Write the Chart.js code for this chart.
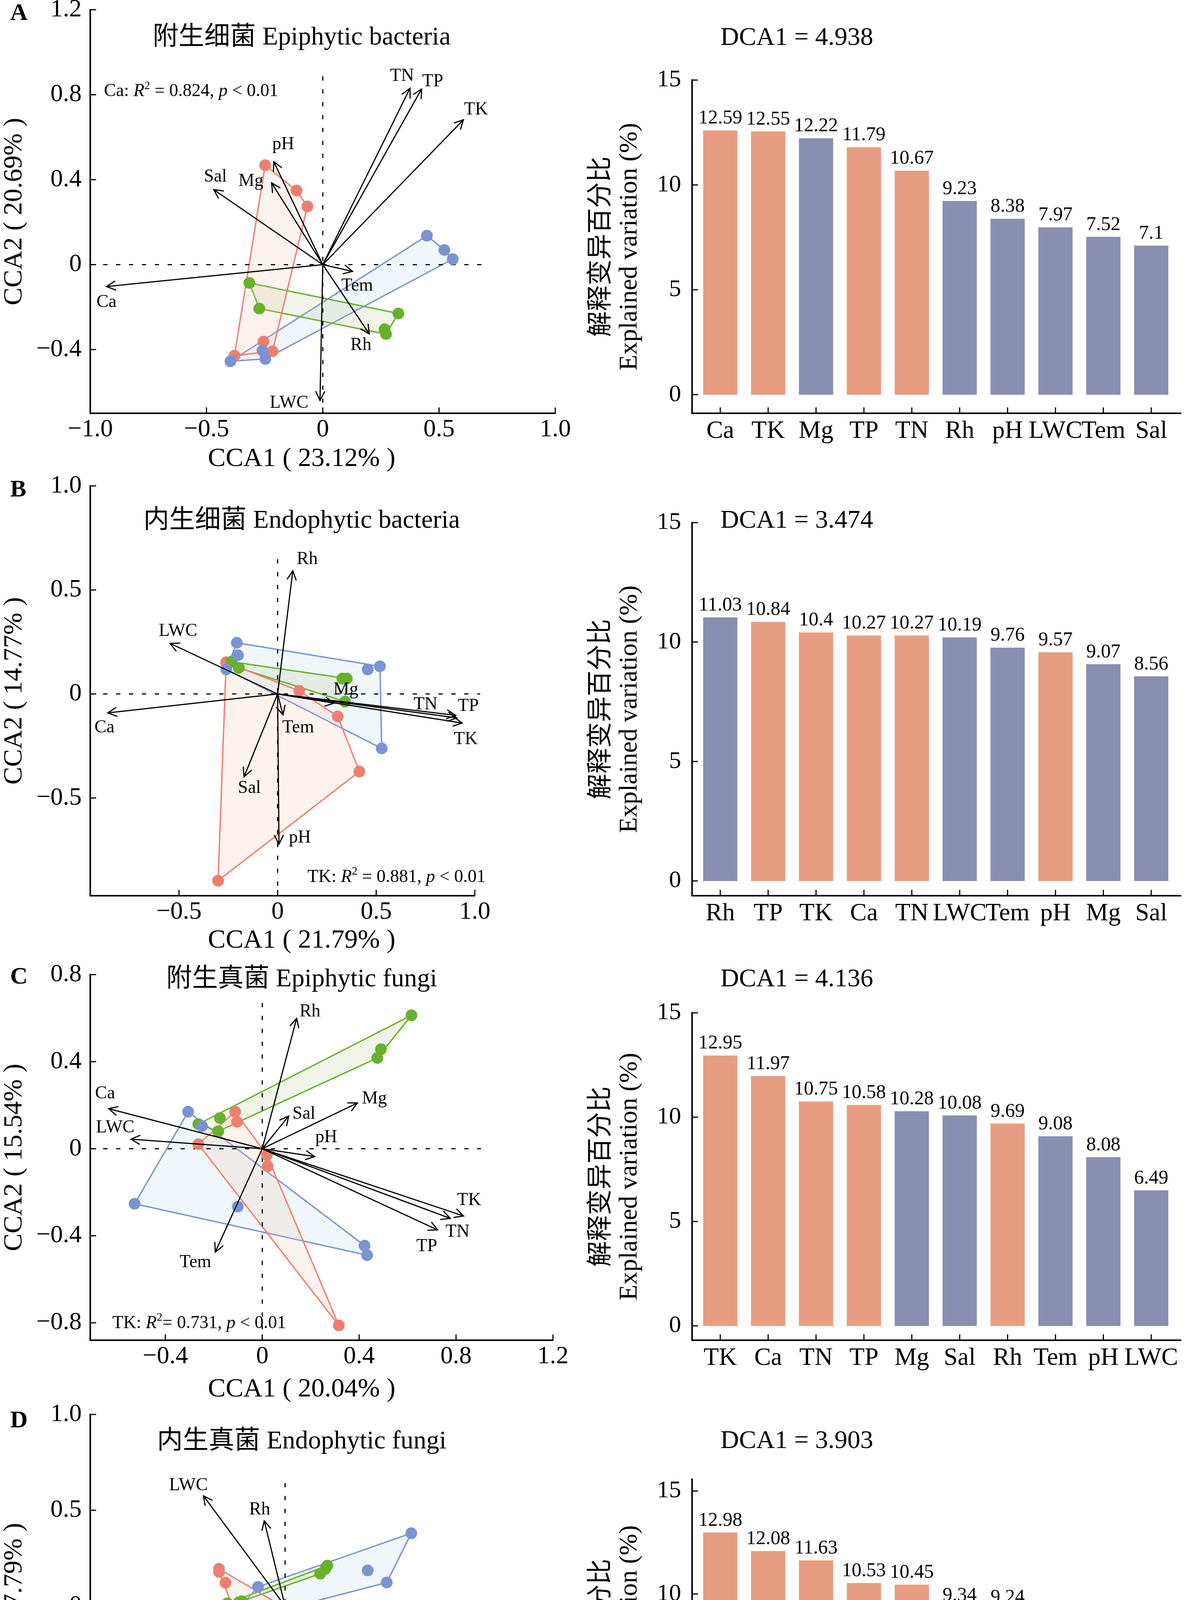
<!DOCTYPE html>
<html>
<head>
<meta charset="utf-8">
<script src="https://cdn.jsdelivr.net/npm/chart.js@4.4.1/dist/chart.umd.min.js"></script>
<style>
  html, body { margin: 0; padding: 0; background: #fff; }
  #page { position: relative; width: 3035px; height: 4901px; overflow: hidden; background: #fff;
          font-family: 'Liberation Serif', 'Noto Sans CJK SC', serif; color: #000; }
  #page canvas { position: absolute; }
  .lg { position: absolute; font-size: 68px; line-height: 68px; white-space: nowrap; }
  .dot { position: absolute; width: 35px; height: 37px; border-radius: 50%; }
  .sq { position: absolute; width: 38px; height: 38px; }
</style>
</head>
<body>
<div id="page"></div>
<script>
// ---------- data ----------
// A  附生细菌
const ltA = [[-0.248, 0.468], [-0.113, 0.349], [-0.066, 0.274], [-0.255, -0.362], [-0.216, -0.408], [-0.380, -0.429]];
const mtA = [[-0.316, -0.086], [-0.273, -0.207], [0.325, -0.230], [0.266, -0.304], [0.272, -0.327]];
const htA = [[0.448, 0.136], [0.523, 0.069], [0.559, 0.026], [-0.397, -0.455], [-0.259, -0.405], [-0.247, -0.444]];
const envA = ['Ca', 'TN', 'TP', 'TK', 'pH', 'Mg', 'Sal', 'Tem', 'Rh', 'LWC'];
const arrowA = [[-0.930, -0.103], [0.375, 0.830], [0.425, 0.827], [0.605, 0.682], [-0.211, 0.485], [-0.220, 0.385], [-0.469, 0.353], [0.128, -0.032], [0.200, -0.326], [-0.012, -0.639]];
const labelA = [[-0.930, -0.178], [0.341, 0.887], [0.473, 0.861], [0.659, 0.729], [-0.170, 0.566], [-0.309, 0.392], [-0.462, 0.413], [0.148, -0.100], [0.164, -0.379], [-0.145, -0.652]];

// B  内生细菌
const ltB = [[-0.261, 0.152], [0.110, 0.015], [0.305, -0.108], [0.415, -0.373], [-0.302, -0.898]];
const mtB = [[-0.234, 0.155], [-0.197, 0.125], [0.329, 0.074], [0.351, 0.074], [0.342, -0.037]];
const htB = [[-0.207, 0.246], [-0.201, 0.186], [-0.260, 0.118], [0.457, 0.118], [0.519, 0.133], [0.528, -0.262]];
const envB = ['Rh', 'LWC', 'Ca', 'TN', 'TP', 'TK', 'Mg', 'Tem', 'Sal', 'pH'];
const arrowB = [[0.077, 0.592], [-0.545, 0.243], [-0.861, -0.091], [0.903, -0.103], [0.909, -0.115], [0.936, -0.140], [0.287, -0.044], [0.027, -0.100], [-0.170, -0.398], [0.007, -0.722]];
const labelB = [[0.150, 0.648], [-0.505, 0.302], [-0.878, -0.162], [0.750, -0.052], [0.967, -0.059], [0.954, -0.218], [0.346, 0.019], [0.104, -0.162], [-0.143, -0.454], [0.113, -0.692]];

// C  附生真菌
const ltC = [[-0.112, 0.170], [-0.104, 0.124], [-0.264, 0.021], [0.019, -0.029], [0.022, -0.080], [0.316, -0.812]];
const mtC = [[0.616, 0.613], [0.490, 0.457], [0.475, 0.417], [-0.175, 0.141], [-0.264, 0.113], [-0.182, 0.080]];
const htC = [[-0.306, 0.170], [-0.249, 0.104], [-0.527, -0.253], [-0.101, -0.266], [0.422, -0.445], [0.433, -0.489]];
const envC = ['Rh', 'Mg', 'Sal', 'pH', 'TK', 'TN', 'TP', 'Ca', 'LWC', 'Tem'];
const arrowC = [[0.142, 0.599], [0.393, 0.210], [0.109, 0.150], [0.216, -0.036], [0.831, -0.309], [0.776, -0.320], [0.724, -0.373], [-0.634, 0.184], [-0.542, 0.044], [-0.194, -0.475]];
const labelC = [[0.197, 0.630], [0.463, 0.230], [0.172, 0.160], [0.264, 0.051], [0.854, -0.238], [0.806, -0.382], [0.679, -0.449], [-0.649, 0.253], [-0.607, 0.097], [-0.276, -0.522]];

// D  内生真菌
const ltD = [[-0.339, 0.194], [-0.339, 0.178], [-0.306, 0.122], [0.207, -0.139], [0.226, -0.144], [0.130, -1.031]];
const mtD = [[0.217, 0.211], [0.207, 0.194], [0.180, 0.169], [-0.296, 0.014], [-0.237, 0.020], [-0.222, 0.025]];
const htD = [[0.648, 0.380], [0.424, 0.186], [0.522, 0.123], [-0.139, 0.100], [-0.265, -0.039], [-0.144, -0.054]];
const envD = ['LWC', 'Rh', 'Tem', 'TK', 'TP', 'TN', 'pH', 'Mg', 'Sal', 'Ca'];
const arrowD = [[-0.419, 0.575], [-0.107, 0.445], [0.235, -0.025], [0.917, -0.208], [0.878, -0.347], [0.822, -0.414], [0.056, -0.208], [0.109, -0.609], [-0.259, -0.249], [-0.909, -0.414]];
const labelD = [[-0.496, 0.629], [-0.130, 0.502], [0.328, -0.012], [0.985, -0.172], [0.957, -0.355], [0.865, -0.482], [0.130, -0.220], [0.081, -0.668], [-0.339, -0.259], [-0.894, -0.304]];

// axis ticks
const xTickA = [-1, -0.5, 0, 0.5, 1];     const yTickA = [-0.4, 0, 0.4, 0.8, 1.2];
const xTickB = [-0.5, 0, 0.5, 1];         const yTickB = [-0.5, 0, 0.5, 1];
const xTickC = [-0.4, 0, 0.4, 0.8, 1.2];  const yTickC = [-0.8, -0.4, 0, 0.4, 0.8];
const xTickD = [-0.5, 0, 0.5, 1];         const yTickD = [-1, -0.5, 0, 0.5, 1];
const barTicks = [0, 5, 10, 15];

// explained variation bars (1 = p < 0.05)
const barCatA = ['Ca', 'TK', 'Mg', 'TP', 'TN', 'Rh', 'pH', 'LWC', 'Tem', 'Sal'];
const barValA = [12.59, 12.55, 12.22, 11.79, 10.67, 9.23, 8.38, 7.97, 7.52, 7.1];
const barSigA = [1, 1, 0, 1, 1, 0, 0, 0, 0, 0];
const barCatB = ['Rh', 'TP', 'TK', 'Ca', 'TN', 'LWC', 'Tem', 'pH', 'Mg', 'Sal'];
const barValB = [11.03, 10.84, 10.4, 10.27, 10.27, 10.19, 9.76, 9.57, 9.07, 8.56];
const barSigB = [0, 1, 1, 1, 1, 0, 0, 1, 0, 0];
const barCatC = ['TK', 'Ca', 'TN', 'TP', 'Mg', 'Sal', 'Rh', 'Tem', 'pH', 'LWC'];
const barValC = [12.95, 11.97, 10.75, 10.58, 10.28, 10.08, 9.69, 9.08, 8.08, 6.49];
const barSigC = [1, 1, 1, 1, 0, 0, 1, 0, 0, 0];
const barCatD = ['Ca', 'TP', 'TK', 'TN', 'LWC', 'Mg', 'Rh', 'pH', 'Sal', 'Tem'];
const barValD = [12.98, 12.08, 11.63, 10.53, 10.45, 9.34, 9.24, 8.47, 8.22, 7.12];
const barSigD = [1, 1, 1, 1, 1, 1, 0, 0, 0, 0];

// ---------- styles ----------
const SER = "'Liberation Serif', 'Noto Sans CJK SC', serif";
const C_LT = '#EE7F70', C_MT = '#67B12B', C_HT = '#7A93D2';
const F_LT = 'rgba(240,190,170,0.2)', F_MT = 'rgba(170,190,130,0.18)', F_HT = 'rgba(173,216,230,0.2)';
const C_SIG = '#E89D82', C_NS = '#8A8EB0';

Chart.defaults.font.family = SER;
Chart.defaults.color = '#000';

function convexHull(pts) {
  const p = pts.slice().sort((a, b) => a[0] - b[0] || a[1] - b[1]);
  const cross = (o, a, b) => (a[0] - o[0]) * (b[1] - o[1]) - (a[1] - o[1]) * (b[0] - o[0]);
  const lo = [], up = [];
  for (const q of p) {
    while (lo.length >= 2 && cross(lo[lo.length - 2], lo[lo.length - 1], q) <= 0) lo.pop();
    lo.push(q);
  }
  for (const q of p.slice().reverse()) {
    while (up.length >= 2 && cross(up[up.length - 2], up[up.length - 1], q) <= 0) up.pop();
    up.push(q);
  }
  lo.pop(); up.pop();
  return lo.concat(up);
}

function fmtTick(v) {
  if (Math.abs(v) < 1e-9) return '0';
  return (v < 0 ? '\u2212' : '') + Math.abs(v).toFixed(1);
}

function makeCanvas(id, c) {
  const el = document.createElement('canvas');
  el.id = id;
  el.width = c.w; el.height = c.h;
  el.style.left = c.x + 'px'; el.style.top = c.y + 'px';
  el.style.width = c.w + 'px'; el.style.height = c.h + 'px';
  document.getElementById('page').appendChild(el);
  return el;
}

function innerTicks(chart) {
  const ctx = chart.ctx, a = chart.chartArea, sx = chart.scales.x, sy = chart.scales.y;
  ctx.save();
  ctx.strokeStyle = '#000';
  ctx.lineWidth = 3;
  sx.ticks.forEach(t => {
    const x = sx.getPixelForValue(t.value);
    ctx.beginPath(); ctx.moveTo(x, a.bottom); ctx.lineTo(x, a.bottom - 15); ctx.stroke();
  });
  sy.ticks.forEach(t => {
    const y = sy.getPixelForValue(t.value);
    ctx.beginPath(); ctx.moveTo(a.left, y); ctx.lineTo(a.left + 15, y); ctx.stroke();
  });
  ctx.restore();
}

function drawText(ctx, txt, x, y, size, opt) {
  opt = opt || {};
  ctx.save();
  ctx.font = (opt.bold ? 'bold ' : '') + size + 'px ' + SER;
  ctx.fillStyle = '#000';
  ctx.textAlign = opt.align || 'center';
  ctx.textBaseline = opt.base || 'middle';
  ctx.fillText(txt, x, y);
  ctx.restore();
}

// text with italic / superscript pieces
function richText(ctx, parts, x, y, size, align) {
  const fontOf = st => st === 'i' ? 'italic ' + size + 'px ' + SER
    : st === 's' ? Math.round(size * 0.62) + 'px ' + SER : size + 'px ' + SER;
  ctx.save();
  ctx.fillStyle = '#000';
  ctx.textAlign = 'left';
  ctx.textBaseline = 'middle';
  let w = 0;
  parts.forEach(([t, st]) => { ctx.font = fontOf(st); w += ctx.measureText(t).width; });
  let cx = align === 'right' ? x - w : x;
  parts.forEach(([t, st]) => {
    ctx.font = fontOf(st);
    ctx.fillText(t, cx, st === 's' ? y - size * 0.3 : y);
    cx += ctx.measureText(t).width;
  });
  ctx.restore();
}

const noteA = [['Ca: ', ''], ['R', 'i'], ['2', 's'], [' = 0.824, ', ''], ['p', 'i'], [' < 0.01', '']];
const noteB = [['TK: ', ''], ['R', 'i'], ['2', 's'], [' = 0.881, ', ''], ['p', 'i'], [' < 0.01', '']];
const noteC = [['TK: ', ''], ['R', 'i'], ['2', 's'], ['= 0.731, ', ''], ['p', 'i'], [' < 0.01', '']];
const noteD = [['Ca: ', ''], ['R', 'i'], ['2', 's'], [' = 0.906, ', ''], ['p', 'i'], [' < 0.01', '']];

// ---------- panel layout ----------
const scatterPanels = [
  { id: 'sA', letter: 'A', title: '附生细菌 Epiphytic bacteria', xTitle: 'CCA1 ( 23.12% )', yTitle: 'CCA2 ( 20.69% )',
    groups: [ltA, mtA, htA], env: envA, arrows: arrowA, labels: labelA,
    xRange: [-1, 1], yRange: [-0.7, 1.2], xTicks: xTickA, yTicks: yTickA, hLine: [-1, 0.69], vLine: [0.887, -0.7],
    note: noteA, notePos: [-0.941, 0.815], noteAlign: 'left',
    canvas: { x: 0, y: 0, w: 1530, h: 1240 }, area: { l: 231, r: 1421, t: 25, b: 1058 },
    letterY: 51, titleY: 97, xTitleY: 1175 },
  { id: 'sB', letter: 'B', title: '内生细菌 Endophytic bacteria', xTitle: 'CCA1 ( 21.79% )', yTitle: 'CCA2 ( 14.77% )',
    groups: [ltB, mtB, htB], env: envB, arrows: arrowB, labels: labelB,
    xRange: [-0.95, 1], yRange: [-0.97, 1], xTicks: xTickB, yTicks: yTickB, hLine: [-0.95, 1.027], vLine: [0.648, -0.97],
    note: noteB, notePos: [1.055, -0.881], noteAlign: 'right',
    canvas: { x: 0, y: 1200, w: 1530, h: 1270 }, area: { l: 231, r: 1215, t: 1244, b: 2293 },
    letterY: 1271, titleY: 1334, xTitleY: 2408 },
  { id: 'sC', letter: 'C', title: '附生真菌 Epiphytic fungi', xTitle: 'CCA1 ( 20.04% )', yTitle: 'CCA2 ( 15.54% )',
    groups: [ltC, mtC, htC], env: envC, arrows: arrowC, labels: labelC,
    xRange: [-0.71, 1.2], yRange: [-0.88, 0.8], xTicks: xTickC, yTicks: yTickC, hLine: [-0.71, 0.903], vLine: [0.67, -0.88],
    note: noteC, notePos: [-0.619, -0.802], noteAlign: 'left',
    canvas: { x: 0, y: 2430, w: 1530, h: 1190 }, area: { l: 231, r: 1415, t: 2495, b: 3431 },
    letterY: 2518, titleY: 2508, xTitleY: 3557 },
  { id: 'sD', letter: 'D', title: '内生真菌 Endophytic fungi', xTitle: 'CCA1 (19.38%)', yTitle: 'CCA2 ( 17.79% )',
    groups: [ltD, mtD, htD], env: envD, arrows: arrowD, labels: labelD,
    xRange: [-1, 1], yRange: [-1.11, 1], xTicks: xTickD, yTicks: yTickD, hLine: [-1, 1.004], vLine: [0.642, -1.11],
    note: noteD, notePos: [-0.928, -1.018], noteAlign: 'left',
    canvas: { x: 0, y: 3580, w: 1530, h: 1270 }, area: { l: 231, r: 1228, t: 3621, b: 4656 },
    letterY: 3654, titleY: 3691, xTitleY: 4778 }
];

const barPanels = [
  { id: 'bA', cats: barCatA, values: barValA, sig: barSigA, dca: 'DCA1 = 4.938', dcaY: 98, yRange: [-0.89, 15],
    canvas: { x: 1450, y: 0, w: 1585, h: 1240 }, area: { l: 1771, r: 3022, t: 205, b: 1058 } },
  { id: 'bB', cats: barCatB, values: barValB, sig: barSigB, dca: 'DCA1 = 3.474', dcaY: 1334, yRange: [-0.62, 15],
    canvas: { x: 1450, y: 1200, w: 1585, h: 1270 }, area: { l: 1771, r: 3022, t: 1338, b: 2293 } },
  { id: 'bC', cats: barCatC, values: barValC, sig: barSigC, dca: 'DCA1 = 4.136', dcaY: 2508, yRange: [-0.69, 15],
    canvas: { x: 1450, y: 2430, w: 1585, h: 1190 }, area: { l: 1771, r: 3022, t: 2593, b: 3431 } },
  { id: 'bD', cats: barCatD, values: barValD, sig: barSigD, dca: 'DCA1 = 3.903', dcaY: 3690, yRange: [-0.91, 15.57],
    canvas: { x: 1450, y: 3580, w: 1585, h: 1270 }, area: { l: 1771, r: 3022, t: 3787, b: 4656 },
    xTitle: '指标 Indicator', xTitleY: 4787 }
];

// ---------- scatter (CCA biplot) ----------
function makeScatter(p) {
  const cv = p.canvas, a = p.area;
  const el = makeCanvas(p.id, cv);
  const cols = [C_LT, C_MT, C_HT], fills = [F_LT, F_MT, F_HT];
  const ds = [];

  p.arrows.forEach(e => ds.push({
    type: 'line', data: [{ x: 0, y: 0 }, { x: e[0], y: e[1] }],
    borderColor: '#000', borderWidth: 3, pointRadius: 0, fill: false, clip: false, order: 0
  }));
  p.groups.forEach((g, i) => ds.push({
    type: 'scatter', data: g.map(q => ({ x: q[0], y: q[1] })),
    backgroundColor: cols[i], borderWidth: 0, pointRadius: 15, clip: false, order: 1.3 - i * 0.1
  }));
  ds.push({ type: 'line', data: [{ x: p.hLine[0], y: 0 }, { x: p.hLine[1], y: 0 }],
    borderColor: '#000', borderWidth: 3, borderDash: [11, 22], pointRadius: 0, fill: false, clip: false, order: 2 });
  ds.push({ type: 'line', data: [{ x: 0, y: p.vLine[0] }, { x: 0, y: p.vLine[1] }],
    borderColor: '#000', borderWidth: 3, borderDash: [11, 22], pointRadius: 0, fill: false, clip: false, order: 2 });
  p.groups.forEach((g, i) => {
    const h = convexHull(g);
    h.push(h[0]);
    ds.push({
      type: 'line', data: h.map(q => ({ x: q[0], y: q[1] })),
      borderColor: cols[i], borderWidth: 3.5, backgroundColor: fills[i], fill: 'shape',
      pointRadius: 0, tension: 0, clip: false, order: 3 + i
    });
  });

  const deco = {
    id: 'deco',
    afterDatasetsDraw(chart) {
      const ctx = chart.ctx, sx = chart.scales.x, sy = chart.scales.y;
      const ox = sx.getPixelForValue(0), oy = sy.getPixelForValue(0);
      ctx.save();
      ctx.strokeStyle = '#000';
      ctx.lineWidth = 3;
      p.arrows.forEach(e => {
        const x1 = sx.getPixelForValue(e[0]), y1 = sy.getPixelForValue(e[1]);
        const ang = Math.atan2(y1 - oy, x1 - ox), L = 26, w = 0.47;
        ctx.beginPath();
        ctx.moveTo(x1 - L * Math.cos(ang - w), y1 - L * Math.sin(ang - w));
        ctx.lineTo(x1, y1);
        ctx.lineTo(x1 - L * Math.cos(ang + w), y1 - L * Math.sin(ang + w));
        ctx.stroke();
      });
      ctx.restore();
      p.env.forEach((name, i) => {
        drawText(ctx, name, sx.getPixelForValue(p.labels[i][0]), sy.getPixelForValue(p.labels[i][1]), 46);
      });
      richText(ctx, p.note, sx.getPixelForValue(p.notePos[0]), sy.getPixelForValue(p.notePos[1]), 46, p.noteAlign);
    },
    afterDraw(chart) {
      const ctx = chart.ctx;
      innerTicks(chart);
      drawText(ctx, p.letter, 26 - cv.x, p.letterY - cv.y, 62, { bold: true, align: 'left', base: 'alphabetic' });
      drawText(ctx, p.title, 772 - cv.x, p.titleY - cv.y, 66);
      drawText(ctx, p.xTitle, 772 - cv.x, p.xTitleY - cv.y, 68);
    }
  };

  return new Chart(el, {
    type: 'scatter',
    data: { datasets: ds },
    options: {
      responsive: false, animation: false, devicePixelRatio: 1, events: [],
      layout: { padding: { left: 0, top: a.t - cv.y, right: cv.x + cv.w - a.r, bottom: 0 } },
      plugins: { legend: { display: false }, tooltip: { enabled: false } },
      scales: {
        x: {
          type: 'linear', min: p.xRange[0], max: p.xRange[1],
          afterBuildTicks: s => { s.ticks = p.xTicks.map(v => ({ value: v })); },
          afterFit: s => { s.height = cv.y + cv.h - a.b; s.paddingLeft = 0; s.paddingRight = 0; },
          grid: { display: false, drawTicks: false },
          border: { display: true, color: '#000', width: 4 },
          ticks: { color: '#000', font: { family: SER, size: 64 }, padding: 4, autoSkip: false, maxRotation: 0,
                   callback: v => fmtTick(v) }
        },
        y: {
          type: 'linear', min: p.yRange[0], max: p.yRange[1],
          afterBuildTicks: s => { s.ticks = p.yTicks.map(v => ({ value: v })); },
          afterFit: s => { s.width = a.l - cv.x; s.paddingTop = 0; s.paddingBottom = 0; },
          grid: { display: false, drawTicks: false },
          border: { display: true, color: '#000', width: 4 },
          ticks: { color: '#000', font: { family: SER, size: 64 }, padding: 22, autoSkip: false,
                   callback: v => fmtTick(v) },
          title: { display: true, text: p.yTitle, color: '#000', font: { family: SER, size: 68, lineHeight: 1 },
                   padding: { top: 3, bottom: 0 } }
        }
      }
    },
    plugins: [deco]
  });
}

// ---------- bar chart (explained variation) ----------
function makeBars(p) {
  const cv = p.canvas, a = p.area;
  const el = makeCanvas(p.id, cv);
  const deco = {
    id: 'barDeco',
    afterDatasetsDraw(chart) {
      const ctx = chart.ctx;
      chart.getDatasetMeta(0).data.forEach((bar, i) => {
        drawText(ctx, String(p.values[i]), bar.x, bar.y - 18, 50, { base: 'alphabetic' });
      });
    },
    afterDraw(chart) {
      const ctx = chart.ctx;
      innerTicks(chart);
      drawText(ctx, p.dca, 2039 - cv.x, p.dcaY - cv.y, 66);
      if (p.xTitle) drawText(ctx, p.xTitle, 2408 - cv.x, p.xTitleY - cv.y, 66);
    }
  };
  return new Chart(el, {
    type: 'bar',
    data: {
      datasets: [{
        data: p.values.map((v, i) => ({ x: i, y: v })),
        backgroundColor: p.sig.map(s => s ? C_SIG : C_NS),
        borderWidth: 0, barThickness: 87
      }]
    },
    options: {
      responsive: false, animation: false, devicePixelRatio: 1, events: [],
      layout: { padding: { left: 0, top: a.t - cv.y, right: cv.x + cv.w - a.r, bottom: 0 } },
      plugins: { legend: { display: false }, tooltip: { enabled: false } },
      scales: {
        x: {
          type: 'linear', min: -0.589, max: 9.62, offset: false,
          afterBuildTicks: s => { s.ticks = p.cats.map((c, i) => ({ value: i })); },
          afterFit: s => { s.height = cv.y + cv.h - a.b; s.paddingLeft = 0; s.paddingRight = 0; },
          grid: { display: false, drawTicks: false },
          border: { display: true, color: '#000', width: 4 },
          ticks: { color: '#000', font: { family: SER, size: 64 }, padding: 8, autoSkip: false, maxRotation: 0,
                   callback: v => p.cats[Math.round(v)] }
        },
        y: {
          type: 'linear', min: p.yRange[0], max: p.yRange[1],
          afterBuildTicks: s => { s.ticks = barTicks.map(v => ({ value: v })); },
          afterFit: s => { s.width = a.l - cv.x; s.paddingTop = 0; s.paddingBottom = 0; },
          grid: { display: false, drawTicks: false },
          border: { display: true, color: '#000', width: 4 },
          ticks: { color: '#000', font: { family: SER, size: 62 }, padding: 28, autoSkip: false,
                   callback: v => String(v) },
          title: { display: true, text: ['解释变异百分比', 'Explained variation (%)'], color: '#000',
                   font: { family: SER, size: 66, lineHeight: 1.1 }, padding: { top: 53, bottom: 0 } }
        }
      }
    },
    plugins: [deco]
  });
}

scatterPanels.forEach(makeScatter);
barPanels.forEach(makeBars);

// ---------- legend ----------
const page = document.getElementById('page');
function addEl(cls, style, html) {
  const d = document.createElement('div');
  d.className = cls;
  Object.assign(d.style, style);
  if (html) d.innerHTML = html;
  page.appendChild(d);
}
[[C_LT, 1023, 'LT', 1074], [C_MT, 1197, 'MT', 1244], [C_HT, 1391, 'HT', 1434]].forEach(([c, cx, t, tx]) => {
  addEl('dot', { left: (cx - 17.5) + 'px', top: '4853px', background: c });
  addEl('lg', { left: tx + 'px', top: '4830px' }, t);
});
addEl('sq', { left: '1565px', top: '4853px', background: C_NS });
addEl('lg', { left: '1634px', top: '4830px' }, '<i>p</i> &gt; 0.05');
addEl('sq', { left: '1916px', top: '4853px', background: C_SIG });
addEl('lg', { left: '1980px', top: '4830px' }, '<i>p</i> &lt; 0.05');
</script>
</body>
</html>
